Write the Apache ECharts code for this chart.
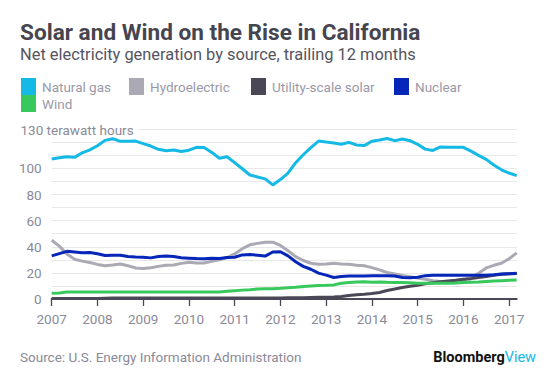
<!DOCTYPE html>
<html><head><meta charset="utf-8">
<script src="https://cdn.jsdelivr.net/npm/echarts@6/dist/echarts.min.js"></script>
<style>html,body{margin:0;padding:0;background:#fff}#c{width:557px;height:382px}</style>
</head><body><div id="c"></div>
<script>
// Trailing-12-month net generation, terawatt hours, sampled every 2 months from Jan 2007
const startYear = 2007;
const stepMonths = 2;
const naturalGas = [107.3,108.2,109,108.5,112,114.2,117.4,121.5,122.8,120.8,120.8,121,
  119,117.2,114.7,113.5,114.2,113,114,116.2,116,112.3,107.8,109,
  104.5,99.8,95,93.5,92,87.4,91.5,96.5,104.4,110.5,116,121,
  120.2,119.5,118.5,120,118,117.5,120.8,121.8,123,121.3,122.5,121.3,
  118.5,114.8,113.8,116.5,116.3,116.2,116.2,113.3,110,107,102.6,99,96.5,94.5];
const hydroelectric = [45,40.5,34.5,30.5,29,28,26.5,25.5,26,26.8,25.5,23.8,
  23.3,24,25,25.8,26,27.3,28.2,27.5,27.6,28.9,30,31.8,
  34.5,38.5,41.5,42.6,43.5,43.5,41,37,32.5,29.5,27.4,26.7,
  26.9,27.3,26.9,26.7,25.8,25.5,24,22.3,20.3,19.2,18,17,
  16,15.1,14,13.4,13.2,13.8,14.5,16.5,19.7,23.8,25.8,27.4,30.8,35.3];
const utilitySolar = [0.4,0.4,0.4,0.4,0.4,0.4,0.4,0.6,0.8,0.8,0.8,0.8,
  0.8,0.8,0.8,0.8,0.8,0.8,0.8,0.8,0.8,0.8,0.8,0.8,
  0.8,0.8,0.8,0.8,0.8,0.8,0.8,0.9,0.9,1.0,1.2,1.3,
  1.4,1.5,2.0,2.6,3.2,3.6,4.2,5.0,6.5,7.6,8.8,9.8,
  10.6,11.6,12.4,13.2,13.8,14.4,15.1,15.6,16.4,17.2,18.2,18.9,19.3,19.7];
const nuclear = [33,34.8,36.5,36,35.5,35.6,34.6,33.3,33.5,33.5,32.5,32.2,
  32,31.5,32.5,33,32.5,31.6,31.3,31,30.8,31.2,31,31.8,
  32,33.8,34,33.6,32.9,36,36.2,33,28.5,25,22.8,19.8,
  18.3,16.5,17.3,17.7,17.7,17.7,17.8,17.9,17.9,17.6,16.5,16.2,
  16.6,17.9,18.2,18.2,18.2,18.2,18.2,18.2,18.2,18.2,18.5,19.1,19.3,19.5];
const wind = [4.4,4.6,5.4,5.4,5.4,5.4,5.4,5.4,5.4,5.4,5.4,5.4,
  5.4,5.4,5.4,5.4,5.4,5.4,5.4,5.4,5.4,5.4,5.4,6.0,
  6.4,6.8,7.1,7.6,7.8,7.9,8.2,8.6,9.0,9.5,9.9,10.3,
  10.5,10.8,12.0,12.6,13.1,13.2,12.8,13.1,12.8,12.6,12.6,12.4,
  12.1,12.1,12.0,12.1,12.1,12.3,12.6,12.9,13.1,13.4,13.7,14.0,14.3,14.6];
const seriesNames = ['Natural gas','Hydroelectric','Utility-scale solar','Nuclear','Wind'];
const yLabelValues = [0,20,40,60,80,100];
const yTopLabel = '130 terawatt hours';
const titleText = 'Solar and Wind on the Rise in California';
const subtitleText = 'Net electricity generation by source, trailing 12 months';
const sourceText = 'Source: U.S. Energy Information Administration';

const colors = {'Natural gas':'#14b9e6','Hydroelectric':'#aaa9b4','Utility-scale solar':'#4a4857','Nuclear':'#0526b8','Wind':'#38c95c'};
const valuesByName = {'Natural gas':naturalGas,'Hydroelectric':hydroelectric,'Utility-scale solar':utilitySolar,'Nuclear':nuclear,'Wind':wind};
const toPairs = arr => arr.map((v,i)=>[startYear + i*stepMonths/12, v]);
const lastX = startYear + (naturalGas.length-1)*stepMonths/12;

const FONT = 'Roboto, "Noto Sans", sans-serif';
const legendPos = [[21,78],[129,78],[251,78],[394,78],[21,95]];

const chart = echarts.init(document.getElementById('c'), null, {renderer:'svg'});
chart.setOption({
  animation:false,
  backgroundColor:'#fff',
  grid:{left:51.7,right:40.3,top:129.3,bottom:83},
  legend: seriesNames.map((n,i)=>({
    data:[n], left:legendPos[i][0], top:legendPos[i][1], icon:'rect',
    itemWidth:15, itemHeight:17, itemGap:0, selectedMode:false, padding:0,
    textStyle:{color:'#9a99a8', fontSize:13.5, fontFamily:FONT, padding:[0,0,0,1]}
  })),
  xAxis:{type:'value', min:startYear, max:lastX, interval:1,
    axisLine:{show:true, lineStyle:{color:'#4a4857', width:2}},
    axisTick:{show:true, length:7, lineStyle:{color:'#4a4857', width:1.3}},
    axisLabel:{color:'#8a8a99', fontSize:13.5, fontFamily:FONT, margin:13, showMaxLabel:false,
      formatter:v=>String(Math.round(v))},
    splitLine:{show:false}},
  yAxis:{type:'value', min:0, max:130, interval:10,
    axisLine:{show:false}, axisTick:{show:false},
    axisLabel:{color:'#8a8a99', fontSize:13.5, fontFamily:FONT, margin:10,
      formatter:v=>yLabelValues.includes(v)?String(v):''},
    splitLine:{lineStyle:{color:'#e8e8ea', width:1}}},
  series: seriesNames.map(n=>({
    name:n, type:'line', data:toPairs(valuesByName[n]), showSymbol:false,
    color:colors[n], lineStyle:{width:3, color:colors[n]}, itemStyle:{color:colors[n]}
  })),
  graphic:[
    {type:'text', left:20, top:21, style:{text:titleText, font:'bold 22.6px '+FONT, fill:'#46454f'}},
    {type:'text', left:20, top:46.5, style:{text:subtitleText, font:'16.4px '+FONT, fill:'#55545f'}},
    {type:'rect', shape:{x:19, y:122, width:119, height:15}, style:{fill:'#fff'}, z:50},
    {type:'text', x:20.5, y:129.5, z:51, style:{text:yTopLabel, font:'13.5px '+FONT, fill:'#8a8a99', verticalAlign:'middle'}},
    {type:'text', x:20, y:357, style:{text:sourceText, font:'13.5px '+FONT, fill:'#8a8a99', verticalAlign:'middle'}},
    {type:'text', x:536, y:357, style:{rich:{b:{font:'bold 14.5px '+FONT, fill:'#111'}, v:{font:'14.5px '+FONT, fill:'#14b9e6'}},
      text:'{b|Bloomberg}{v|View}', align:'right', verticalAlign:'middle'}}
  ]
});
</script></body></html>
